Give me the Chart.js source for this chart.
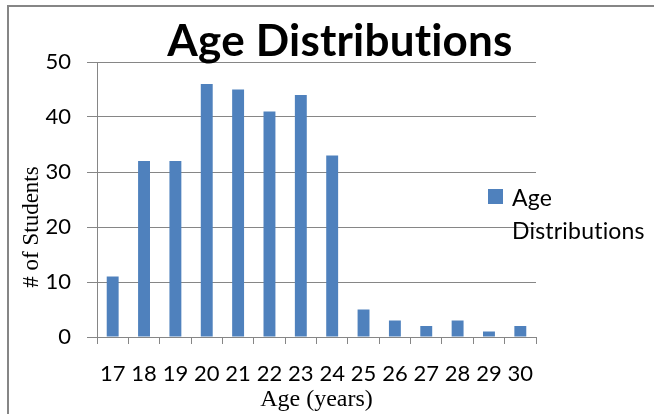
<!DOCTYPE html>
<html lang="en">
<head>
    <meta charset="UTF-8">
    <title>Age Distributions</title>
    <script src="https://cdn.jsdelivr.net/npm/chart.js"></script>
    <style>
        body { margin: 0; background: #fff; }
        #chartContainer { width: 654px; height: 414px; }
    </style>
</head>
<body>
    <div id="chartContainer">
        <canvas id="ageChart" width="654" height="414"></canvas>
    </div>

    <script>
        // data
        var ages = ['17', '18', '19', '20', '21', '22', '23', '24', '25', '26', '27', '28', '29', '30'];
        var students = [11, 32, 32, 46, 45, 41, 44, 33, 5, 3, 2, 3, 1, 2];
        var yTicks = [0, 10, 20, 30, 40, 50];
        var chartTitle = 'Age Distributions';
        var seriesName = 'Age Distributions';
        var xTitle = 'Age (years)';
        var yTitle = '# of Students';

        var barColor = '#4F81BD';
        var lineColor = '#868686';
        var sansFont = 'Lato, "Open Sans", sans-serif';
        var serifFont = '"Liberation Serif", "DejaVu Serif", serif';

        // frame, title, legend and y title drawn the way the Excel picture places them
        var decorPlugin = {
            id: 'decor',
            beforeDraw: function(chart) {
                var ctx = chart.ctx;
                ctx.save();
                ctx.strokeStyle = lineColor;
                ctx.lineWidth = 2;
                ctx.strokeRect(8, 6, 700, 500);
                ctx.restore();
            },
            afterDraw: function(chart) {
                var ctx = chart.ctx;
                ctx.save();
                ctx.fillStyle = '#000';
                // tiny spacing keeps Lato from joining "ti" into a ligature
                ctx.letterSpacing = '0.2px';

                ctx.font = 'bold 44px ' + sansFont;
                ctx.textAlign = 'center';
                ctx.textBaseline = 'alphabetic';
                ctx.fillText(chartTitle, 340, 56);

                // legend: square + wrapped label
                ctx.fillStyle = chart.data.datasets[0].backgroundColor;
                ctx.fillRect(488, 189, 15, 15);
                ctx.fillStyle = '#000';
                ctx.font = '23px ' + sansFont;
                ctx.textAlign = 'left';
                var words = chart.data.datasets[0].label.split(' ');
                ctx.fillText(words[0], 512, 206);
                ctx.fillText(words.slice(1).join(' '), 512, 239);

                ctx.letterSpacing = '0px';
                ctx.font = '23px ' + serifFont;
                ctx.translate(38, 227);
                ctx.rotate(-Math.PI / 2);
                ctx.textAlign = 'center';
                ctx.fillText(yTitle, 0, 0);
                ctx.restore();
            }
        };

        var ctx = document.getElementById('ageChart').getContext('2d');
        new Chart(ctx, {
            type: 'bar',
            data: {
                labels: ages,
                datasets: [{
                    label: seriesName,
                    data: students,
                    backgroundColor: barColor,
                    borderWidth: 0,
                    barPercentage: 0.38,
                    categoryPercentage: 1
                }]
            },
            options: {
                responsive: false,
                animation: false,
                layout: {
                    padding: { left: 0, right: 118, top: 62, bottom: 0 }
                },
                plugins: {
                    legend: { display: false },
                    title: { display: false },
                    tooltip: { enabled: false }
                },
                scales: {
                    x: {
                        offset: true,
                        afterFit: function(scale) { scale.height = 77; },
                        grid: {
                            offset: true,
                            drawOnChartArea: false,
                            drawTicks: true,
                            tickLength: 7,
                            color: lineColor
                        },
                        border: { color: lineColor },
                        ticks: {
                            color: '#000',
                            padding: 17,
                            maxRotation: 0,
                            autoSkip: false,
                            font: { family: sansFont, size: 22 }
                        },
                        title: {
                            display: true,
                            text: xTitle,
                            color: '#000',
                            padding: { top: 0, bottom: 0 },
                            font: { family: serifFont, size: 24 }
                        }
                    },
                    y: {
                        min: 0,
                        max: 50,
                        afterFit: function(scale) { scale.width = 97; },
                        afterBuildTicks: function(scale) {
                            scale.ticks = yTicks.map(function(v) { return { value: v }; });
                        },
                        grid: {
                            color: lineColor,
                            tickLength: 10
                        },
                        border: { color: lineColor },
                        ticks: {
                            color: '#000',
                            padding: 16,
                            font: { family: sansFont, size: 22 }
                        }
                    }
                }
            },
            plugins: [decorPlugin]
        });
    </script>
</body>
</html>
